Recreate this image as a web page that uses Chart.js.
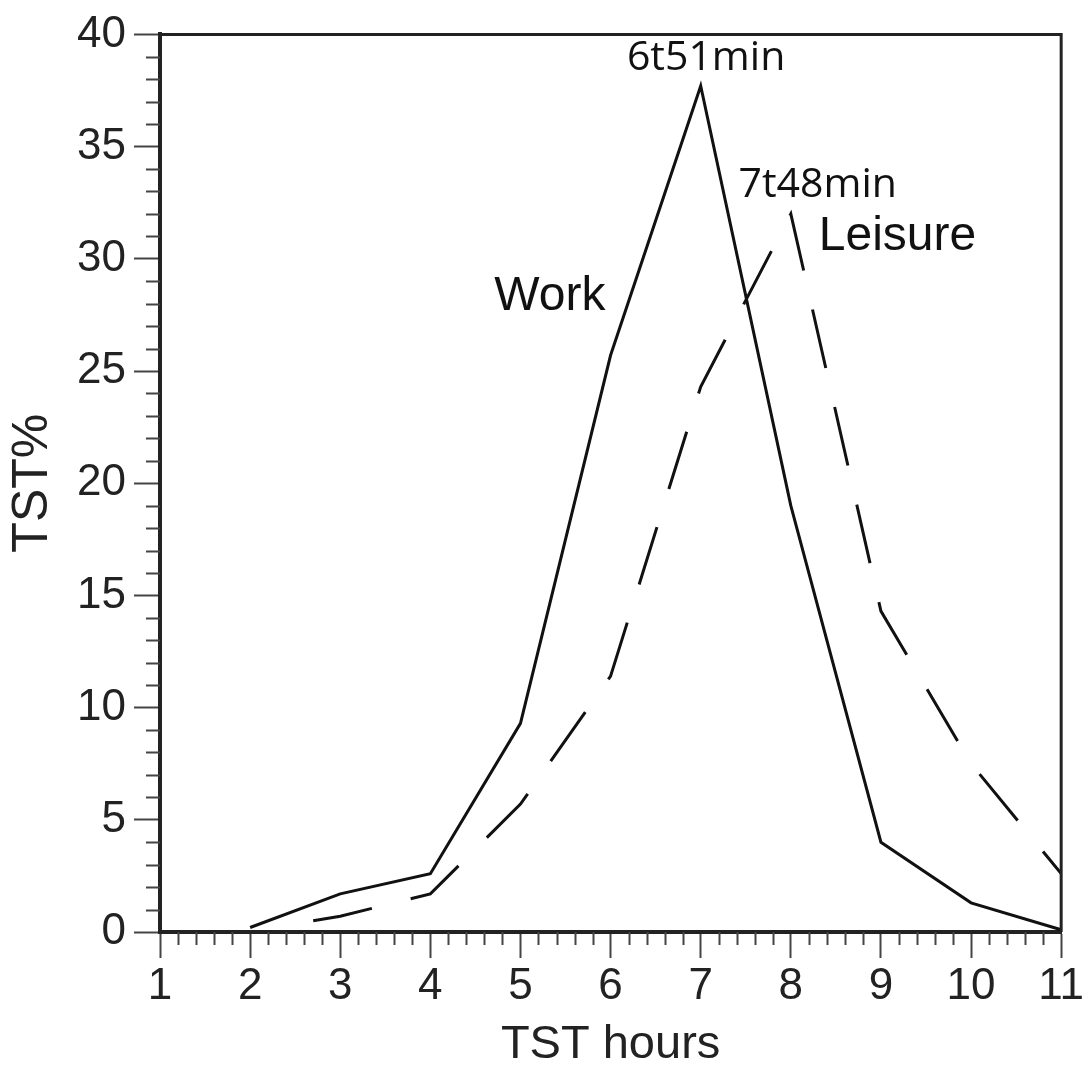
<!DOCTYPE html>
<html>
<head>
<meta charset="utf-8">
<script src="https://cdn.jsdelivr.net/npm/chart.js@4/dist/chart.umd.min.js"></script>
<style>
  body { margin: 0; background: #fff; }
  canvas { display: block; }
</style>
</head>
<body>
<canvas id="tst" width="1086" height="1069"></canvas>
<script>
// values
const workHours = [2, 3, 4, 5, 6, 7, 8, 9, 10, 11];
const workPct = [0.2, 1.7, 2.6, 9.3, 25.7, 37.7, 19.0, 4.0, 1.3, 0.1];

const leisureHours = [2.7, 3, 4, 5, 6, 7, 8, 9, 10, 11];
const leisurePct = [0.5, 0.7, 1.7, 5.7, 11.4, 24.3, 32.0, 14.3, 7.5, 2.6];

const xTicks = [1, 2, 3, 4, 5, 6, 7, 8, 9, 10, 11];
const yTicks = [0, 5, 10, 15, 20, 25, 30, 35, 40];

// text placed on the plot: [text, hour, pct, align, font]
const notes = [
    ['6t51min', 7.06, 38.4, 'center', '41px "Open Sans"'],
    ['7t48min', 7.42, 32.75, 'left', '41px "Open Sans"'],
    ['Work', 4.71, 27.7, 'left', '48px "Liberation Sans"'],
    ['Leisure', 8.31, 30.4, 'left', '48px "Liberation Sans"'],
];

const toPoints = (xs, ys) => xs.map((x, i) => ({ x: x, y: ys[i] }));

const frameAndMinor = {
    id: 'frameAndMinor',
    afterDraw(chart) {
        const ctx = chart.ctx;
        const a = chart.chartArea;
        const xs = chart.scales.x;
        const ys = chart.scales.y;
        ctx.save();
        // minor ticks
        ctx.strokeStyle = '#444';
        ctx.lineWidth = 2;
        ctx.beginPath();
        for (let i = 1; i < 50; i++) {
            if (i % 5 === 0) continue;
            const px = Math.round(xs.getPixelForValue(1 + i * 0.2)) + 0.5;
            ctx.moveTo(px, a.bottom);
            ctx.lineTo(px, a.bottom + 13);
        }
        for (let v = 1; v < 40; v++) {
            if (v % 5 === 0) continue;
            const py = Math.round(ys.getPixelForValue(v)) + 0.5;
            ctx.moveTo(a.left - 14, py);
            ctx.lineTo(a.left, py);
        }
        ctx.stroke();
        // top and right frame
        ctx.strokeStyle = '#222';
        ctx.lineWidth = 3;
        ctx.beginPath();
        ctx.moveTo(a.left, a.top);
        ctx.lineTo(a.right, a.top);
        ctx.lineTo(a.right, a.bottom);
        ctx.stroke();
        // notes
        ctx.fillStyle = '#111';
        ctx.textBaseline = 'alphabetic';
        notes.forEach(n => {
            ctx.font = n[4];
            ctx.textAlign = n[3];
            ctx.fillText(n[0], xs.getPixelForValue(n[1]), ys.getPixelForValue(n[2]));
        });
        ctx.restore();
    }
};

new Chart(document.getElementById('tst'), {
    type: 'line',
    data: {
        datasets: [{
            label: 'Work',
            data: toPoints(workHours, workPct),
            borderColor: '#111',
            borderWidth: 3,
            pointRadius: 0,
            tension: 0
        }, {
            label: 'Leisure',
            data: toPoints(leisureHours, leisurePct),
            borderColor: '#111',
            borderWidth: 3,
            borderDash: [60, 40],
            pointRadius: 0,
            tension: 0
        }]
    },
    options: {
        responsive: false,
        animation: false,
        layout: { padding: { top: 31, right: 23, left: 0, bottom: 0 } },
        plugins: {
            legend: { display: false },
            tooltip: { enabled: false }
        },
        scales: {
            x: {
                type: 'linear',
                min: 1,
                max: 11,
                afterBuildTicks: s => { s.ticks = xTicks.map(v => ({ value: v })); },
                afterFit: s => { s.height = 137; },
                grid: { drawOnChartArea: false, tickLength: 26, tickColor: '#444', tickWidth: 2 },
                border: { color: '#222', width: 4 },
                ticks: { color: '#222', padding: 2, font: { family: 'Liberation Sans', size: 44 } },
                title: {
                    display: true,
                    text: 'TST hours',
                    color: '#222',
                    padding: { top: 0, bottom: 0 },
                    font: { family: 'Liberation Sans', size: 47, lineHeight: 1 }
                }
            },
            y: {
                min: 0,
                max: 40,
                afterBuildTicks: s => { s.ticks = yTicks.map(v => ({ value: v })); },
                afterFit: s => { s.width = 160; },
                grid: { drawOnChartArea: false, tickLength: 26, tickColor: '#444', tickWidth: 2 },
                border: { color: '#222', width: 4 },
                ticks: { color: '#222', padding: 8, font: { family: 'Liberation Sans', size: 44 } },
                title: {
                    display: true,
                    text: 'TST%',
                    color: '#222',
                    padding: { top: 8, bottom: 0 },
                    font: { family: 'Liberation Sans', size: 50, lineHeight: 1 }
                }
            }
        }
    },
    plugins: [frameAndMinor]
});
</script>
</body>
</html>
